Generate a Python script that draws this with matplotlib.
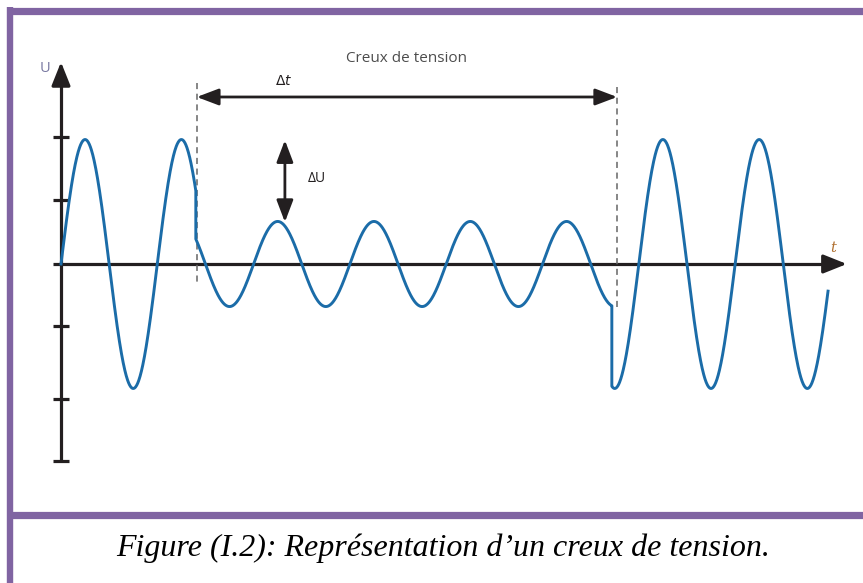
import numpy as np
import matplotlib
matplotlib.use("Agg")
import matplotlib.pyplot as plt
from matplotlib.lines import Line2D

# waveform values (t in ms, U in tick units)
periode = 20.0          # ms
u_nominal = 1.96        # peak before / after the dip
u_creux = 0.67          # peak during the dip
t_debut_creux = 28.0
t_fin_creux = 114.4
t_fin = 159.3

# ticks on the U axis
u_ticks = [2.0, 1.0, -0.98, -2.13, -3.10]

# annotations
t_delta = [28.2, 115.5]     # dashed lines / delta t arrow
u_delta = [1.95, 0.66]      # delta U arrow

# layout (pixels of the 863x583 picture)
W, H = 863, 583
X0, Y0 = 61, 264            # origin of the axes
PX_MS, PX_U = 4.815, 63.5
xlim = (-2, 165)
ylim = (-3.3, 3.3)

fig = plt.figure(figsize=(W / 100, H / 100), dpi=100)
left = (X0 + xlim[0] * PX_MS) / W
bottom = (H - (Y0 - ylim[0] * PX_U)) / H
ax = fig.add_axes([left, bottom, (xlim[1] - xlim[0]) * PX_MS / W,
                   (ylim[1] - ylim[0]) * PX_U / H])
ax.set_xlim(xlim)
ax.set_ylim(ylim)
ax.axis('off')

noir = '#231f20'
bleu = '#1b6ca8'

# purple frame
violet = '#8064a2'
fig.add_artist(Line2D([7 / W, 1], [1 - 10.5 / H, 1 - 10.5 / H], lw=5.2, color=violet, solid_capstyle='butt'))
fig.add_artist(Line2D([10 / W, 10 / W], [0, 1 - 7 / H], lw=4.6, color=violet, solid_capstyle='butt'))
fig.add_artist(Line2D([7 / W, 1], [1 - 514.5 / H, 1 - 514.5 / H], lw=5.2, color=violet, solid_capstyle='butt'))

# signal
def onde(t, amp):
    return amp * np.sin(2 * np.pi * t / periode)

t1 = np.linspace(0, t_debut_creux, 400)
t2 = np.linspace(t_debut_creux, t_fin_creux, 1200)
t3 = np.linspace(t_fin_creux, t_fin, 700)
t = np.concatenate([t1, t2, t3])
u = np.concatenate([onde(t1, u_nominal), onde(t2, u_creux), onde(t3, u_nominal)])
ax.plot(t, u, color=bleu, lw=2.1, solid_joinstyle='round', zorder=3)

fleche = '-|>,head_length=0.95,head_width=0.38'
# axes with arrows
ax.plot([0, 0], [u_ticks[-1], 3.0], color=noir, lw=2.3, solid_capstyle='butt')
ax.annotate('', xy=(0, 3.18), xytext=(0, 2.9),
            arrowprops=dict(arrowstyle=fleche, color=noir, lw=2.3,
                            shrinkA=0, shrinkB=0, mutation_scale=15))
ax.plot([-1.66, 160], [0, 0], color=noir, lw=2.3, solid_capstyle='butt', zorder=2)
ax.annotate('', xy=(163.2, 0), xytext=(159, 0),
            arrowprops=dict(arrowstyle=fleche, color=noir, lw=2.3,
                            shrinkA=0, shrinkB=0, mutation_scale=15))
for yt in u_ticks:
    ax.plot([-1.66, 1.66], [yt, yt], color=noir, lw=2.3, solid_capstyle='butt')

ax.text(-3.3, 3.08, 'U', color='#7777a0', fontsize=10.5, family='Open Sans', ha='center', va='center')
ax.text(160.3, 0.25, 't', color='#b07030', fontsize=10.5, family='DejaVu Serif', style='italic',
        ha='center', va='center')

# dip markers
ax.plot([t_delta[0], t_delta[0]], [2.85, -0.30], color='#666666', lw=1.1, ls=(0, (4, 3)))
ax.plot([t_delta[1], t_delta[1]], [2.79, -0.71], color='#666666', lw=1.1, ls=(0, (4, 3)))
fleche2 = '<|-|>,head_length=0.95,head_width=0.36'
ax.annotate('', xy=(t_delta[0], 2.63), xytext=(t_delta[1], 2.63),
            arrowprops=dict(arrowstyle=fleche2, color=noir, lw=2.0,
                            shrinkA=0, shrinkB=0, mutation_scale=14))
ax.annotate('', xy=(46.5, u_delta[0]), xytext=(46.5, u_delta[1]),
            arrowprops=dict(arrowstyle=fleche2, color=noir, lw=2.0,
                            shrinkA=0, shrinkB=0, mutation_scale=14))
ax.text(46.3, 2.88, r'$\Delta$' + r'$\it{t}$', color=noir, fontsize=10, ha='center', va='center')
ax.text(53.2, 1.35, 'ΔU', color=noir, fontsize=10, family='Open Sans', ha='center', va='center')
ax.text(71.7, 3.23, 'Creux de tension', color='#4d4d4d', fontsize=11, family='Open Sans',
        ha='center', va='center')

fig.text(443 / W, 1 - 548 / H, 'Figure (I.2): Représentation d’un creux de tension.',
         family='Liberation Serif', style='italic', fontsize=23, ha='center', va='center')

plt.savefig('out.png', dpi=100)
